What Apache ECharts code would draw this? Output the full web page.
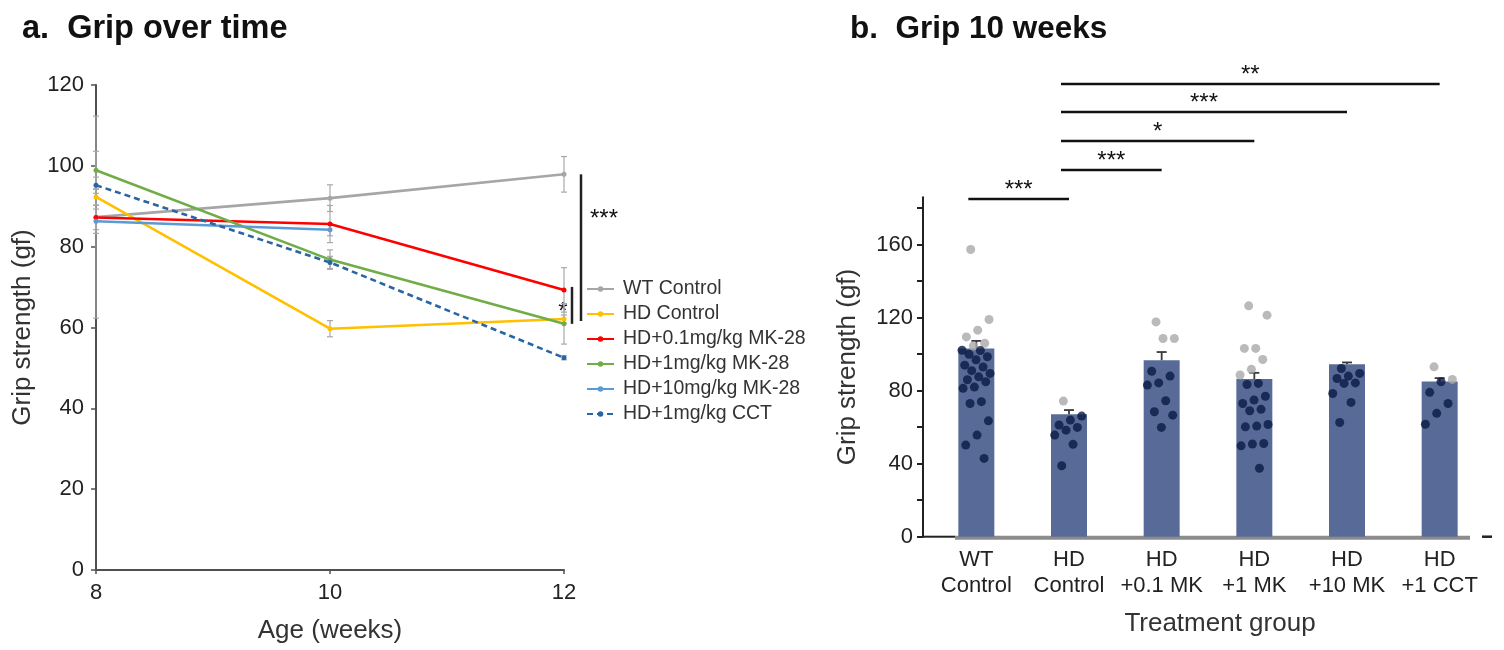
<!DOCTYPE html>
<html><head><meta charset="utf-8">
<script src="https://cdn.jsdelivr.net/npm/echarts@6/dist/echarts.min.js"></script>
<style>html,body{margin:0;padding:0;background:#fff}#c{width:1504px;height:650px}</style>
</head><body><div id="c"></div>
<script>
// ---------- Panel a: grip over time ----------
const weeks = [8, 10, 12];
const lineNames = ['WT Control', 'HD Control', 'HD+0.1mg/kg MK-28', 'HD+1mg/kg MK-28', 'HD+10mg/kg MK-28', 'HD+1mg/kg CCT'];
const wtControl = [87.3, 92.0, 97.9];
const hdControl = [92.3, 59.7, 62.1];
const hd01mk = [87.2, 85.6, 69.3];
const hd1mk = [98.9, 76.8, 60.9];
const hd10mk = [86.3, 84.2, null];
const hd1cct = [95.2, 76.1, 52.5];
const wtErr = [25, 3.3, 4.4];
const hdErr = [2, 2, 1];
const hd01Err = [3, 4.6, 5.5];
const hd1Err = [4.7, 2.4, 5];
const hd10Err = [3, 1.5, null];
const hdCctErr = [2, 1.5, 0.5];
const yTicksA = [0, 20, 40, 60, 80, 100, 120];
const xTicksA = [8, 10, 12];

// ---------- Panel b: grip at 10 weeks ----------
const groups = ['WT\nControl', 'HD\nControl', 'HD\n+0.1 MK', 'HD\n+1 MK', 'HD\n+10 MK', 'HD\n+1 CCT'];
const barMeans = [103.2, 67.1, 96.7, 86.4, 94.5, 85.1];
const barErr = [4.1, 2.3, 4.5, 3.4, 1.0, 1.8];
const wtPts = [157.4, 119, 113.2, 109.5, 106, 104.5, 102.2, 102, 100, 98.6, 97, 94, 93, 91, 89.5, 87.6, 86, 84.9, 82, 81.3, 74, 73, 63.5, 55.7, 50.2, 42.9];
const hdPts = [74.3, 66.1, 63.9, 61.2, 59.9, 58.4, 55.7, 50.6, 38.9];
const mk01Pts = [117.7, 108.6, 108.6, 90.7, 88, 84.3, 83.1, 74.5, 68.5, 66.6, 59.9];
const mk1Pts = [126.5, 121.4, 103.2, 103.2, 97.1, 91.7, 88.6, 84, 83.4, 77, 74.9, 73, 69.8, 69, 61.5, 60.6, 60.2, 51.1, 50.8, 49.8, 37.5];
const mk10Pts = [92.2, 89.5, 88, 86.7, 84.3, 84, 78.5, 73.6, 62.6];
const cctPts = [93.1, 86.2, 84.9, 79.1, 73, 67.6, 61.6];
const yTickValsB = [0, 20, 40, 60, 80, 100, 120, 140, 160, 180];
const yLabelValsB = [0, 40, 80, 120, 160];
const sigPairs = [[0, 1, '***'], [1, 2, '***'], [1, 3, '*'], [1, 4, '***'], [1, 5, '**']];
const sigLeft = [[12, 'WT Control', 'HD Control', '***'], [12, 'HD+0.1mg/kg MK-28', 'HD+1mg/kg MK-28', '*']];

const FONT = 'Liberation Sans, Arial, sans-serif';
const lineVals = [wtControl, hdControl, hd01mk, hd1mk, hd10mk, hd1cct];
const lineErrs = [wtErr, hdErr, hd01Err, hd1Err, hd10Err, hdCctErr];
const lineColors = ['#a6a6a6', '#ffc000', '#ff0000', '#70ad47', '#5b9bd5', '#2a65a3'];
const groupPts = [wtPts, hdPts, mk01Pts, mk1Pts, mk10Pts, cctPts];

const series = [];
// error bars panel a
lineVals.forEach((vals, k) => {
  const data = [];
  vals.forEach((v, i) => { if (v != null && lineErrs[k][i] != null) data.push([weeks[i], v, lineErrs[k][i]]); });
  series.push({
    type: 'custom', xAxisIndex: 0, yAxisIndex: 0, z: 1, silent: true,
    data: data,
    renderItem: function (params, api) {
      const x = api.value(0), y = api.value(1), e = api.value(2);
      const top = api.coord([x, y + e]), bot = api.coord([x, y - e]);
      const style = { stroke: '#a8a8a8', lineWidth: 1.2 };
      return { type: 'group', children: [
        { type: 'line', shape: { x1: top[0], y1: top[1], x2: bot[0], y2: bot[1] }, style },
        { type: 'line', shape: { x1: top[0] - 3, y1: top[1], x2: top[0] + 3, y2: top[1] }, style },
        { type: 'line', shape: { x1: bot[0] - 3, y1: bot[1], x2: bot[0] + 3, y2: bot[1] }, style }
      ]};
    }
  });
});
// lines panel a
lineVals.forEach((vals, k) => {
  series.push({
    name: lineNames[k], type: 'line', xAxisIndex: 0, yAxisIndex: 0, z: 3,
    data: weeks.map((w, i) => vals[i] == null ? null : [w, vals[i]]).filter(d => d),
    symbol: 'circle', symbolSize: 5, color: lineColors[k],
    lineStyle: { width: 2.6, color: lineColors[k], type: k === 5 ? [6, 4] : 'solid' },
    itemStyle: { color: lineColors[k] }
  });
});
// bars panel b
series.push({
  type: 'bar', xAxisIndex: 1, yAxisIndex: 1, data: barMeans, barWidth: 36, z: 2,
  itemStyle: { color: '#586b98' }, silent: true
});
// bar error bars
series.push({
  type: 'custom', xAxisIndex: 2, yAxisIndex: 1, z: 3, silent: true,
  data: barMeans.map((m, i) => [i, m, barErr[i]]),
  renderItem: function (params, api) {
    const x = api.value(0), y = api.value(1), e = api.value(2);
    const a = api.coord([x, y]), b = api.coord([x, y + e]);
    const style = { stroke: '#3a3a3a', lineWidth: 1.8 };
    return { type: 'group', children: [
      { type: 'line', shape: { x1: a[0], y1: a[1], x2: b[0], y2: b[1] }, style },
      { type: 'line', shape: { x1: b[0] - 5, y1: b[1], x2: b[0] + 5, y2: b[1] }, style }
    ]};
  }
});
// individual points
const ptsData = [];
groupPts.forEach((pts, g) => {
  pts.forEach((v, j) => {
    const off = (((j * 0.618034 + 0.31) % 1) - 0.5) * 0.32;
    ptsData.push({ value: [g + off, v], itemStyle: { color: v > barMeans[g] + 0.5 ? '#a9a9a9' : '#0a1a45' } });
  });
});
series.push({
  type: 'scatter', xAxisIndex: 2, yAxisIndex: 1, z: 4, symbolSize: 9, data: ptsData, silent: true
});

const axisLineA = { lineStyle: { color: '#505050', width: 2 } };
const option = {
  animation: false,
  backgroundColor: '#fff',
  title: [
    { text: 'a.  Grip over time', left: 22, top: 13, padding: 0, textStyle: { fontFamily: FONT, fontSize: 32.5, fontWeight: 'bold', color: '#111' } },
    { text: 'b.  Grip 10 weeks', left: 850, top: 13, padding: 0, textStyle: { fontFamily: FONT, fontSize: 31.5, fontWeight: 'bold', color: '#111' } }
  ],
  legend: {
    data: lineNames, orient: 'vertical', left: 581, top: 274, itemWidth: 27, itemHeight: 7, itemGap: 5,
    textStyle: { fontFamily: FONT, fontSize: 19.5, color: '#333', padding: [0, 0, 0, 4] }
  },
  grid: [
    { left: 96, top: 85, width: 468, height: 485 },
    { left: 930, top: 197.3, width: 556, height: 339.4 }
  ],
  xAxis: [
    { type: 'value', gridIndex: 0, min: 8, max: 12, interval: 2, name: 'Age (weeks)', nameLocation: 'middle', nameGap: 48,
      nameTextStyle: { fontFamily: FONT, fontSize: 26, color: '#333' },
      axisLine: axisLineA, axisTick: { show: true, length: 4, lineStyle: { color: '#505050', width: 1.5 } },
      axisLabel: { fontFamily: FONT, fontSize: 22, color: '#222', margin: 12 }, splitLine: { show: false } },
    { type: 'category', gridIndex: 1, data: groups,
      name: 'Treatment group', nameLocation: 'middle', nameGap: 74,
      nameTextStyle: { fontFamily: FONT, fontSize: 26, color: '#333', padding: [0, 0, 0, 24] },
      axisLine: { show: false }, axisTick: { show: false },
      axisLabel: { interval: 0, fontFamily: FONT, fontSize: 22, color: '#222', margin: 10, lineHeight: 26 } },
    { type: 'value', gridIndex: 1, min: -0.5, max: 5.5, show: false }
  ],
  yAxis: [
    { type: 'value', gridIndex: 0, min: 0, max: 120, interval: 20, name: 'Grip strength (gf)', nameLocation: 'middle', nameGap: 60,
      nameTextStyle: { fontFamily: FONT, fontSize: 26, color: '#333' },
      axisLine: { show: true, onZero: false, lineStyle: { color: '#505050', width: 2 } }, axisTick: { show: true, length: 5, lineStyle: { color: '#505050', width: 1.5 } },
      axisLabel: { fontFamily: FONT, fontSize: 22, color: '#222', margin: 12 }, splitLine: { show: false } },
    { type: 'value', gridIndex: 1, min: 0, max: 186, interval: 20, offset: 7,
      name: 'Grip strength (gf)', nameLocation: 'middle', nameGap: 62,
      nameTextStyle: { fontFamily: FONT, fontSize: 26, color: '#333' },
      axisLine: { show: true, onZero: false, lineStyle: { color: '#222', width: 2 } },
      axisTick: { show: true, length: 6, customValues: yTickValsB, lineStyle: { color: '#222', width: 2 } },
      axisLabel: { fontFamily: FONT, fontSize: 22, color: '#222', margin: 10, customValues: yLabelValsB }, splitLine: { show: false } }
  ],
  series: series
};

const chart = echarts.init(document.getElementById('c'), null, { renderer: 'canvas' });
chart.setOption(option);

function pxA(pt) { return chart.convertToPixel({ xAxisIndex: 0, yAxisIndex: 0 }, pt); }
function pxB(pt) { return chart.convertToPixel({ xAxisIndex: 2, yAxisIndex: 1 }, pt); }
const g = [];
const starStyle = { fontFamily: FONT, fontSize: 24, fill: '#111', align: 'center', verticalAlign: 'middle' };
// panel a significance
const idx = n => lineNames.indexOf(n);
{
  const s = sigLeft[0];
  const p1 = pxA([s[0], lineVals[idx(s[1])][2]]), p2 = pxA([s[0], lineVals[idx(s[2])][2]]);
  g.push({ type: 'line', shape: { x1: p1[0] + 17, y1: p1[1], x2: p1[0] + 17, y2: p2[1] + 2 }, style: { stroke: '#222', lineWidth: 2.5 } });
  g.push({ type: 'text', x: p1[0] + 40, y: p1[1] + 45, style: Object.assign({ text: s[3] }, starStyle) });
  const t = sigLeft[1];
  const q1 = pxA([t[0], lineVals[idx(t[1])][2]]), q2 = pxA([t[0], lineVals[idx(t[2])][2]]);
  g.push({ type: 'line', shape: { x1: q1[0] + 8, y1: q1[1] - 3, x2: q1[0] + 8, y2: q2[1] }, style: { stroke: '#222', lineWidth: 2.5 } });
  g.push({ type: 'text', x: q1[0] - 1, y: (q1[1] + q2[1]) / 2 + 5, style: Object.assign({ text: t[3] }, starStyle) });
}
// panel b significance
const levels = [199, 170, 141, 112, 84];
sigPairs.forEach((s, k) => {
  const a = pxB([s[0], 0]), b = pxB([s[1], 0]);
  const x1 = a[0] - 8, x2 = b[0];
  g.push({ type: 'line', shape: { x1, y1: levels[k], x2, y2: levels[k] }, style: { stroke: '#111', lineWidth: 2.6 } });
  g.push({ type: 'text', x: (x1 + x2) / 2, y: levels[k] - 9, style: Object.assign({ text: s[2] }, starStyle) });
});
// baseline of panel b
const o = pxB([-0.5, 0]), e = pxB([5.5, 0]);
g.push({ type: 'line', shape: { x1: o[0] + 25, y1: o[1] + 1, x2: e[0] - 16, y2: e[1] + 1 }, style: { stroke: '#8c8c8c', lineWidth: 4 } });
g.push({ type: 'line', shape: { x1: o[0] - 7, y1: o[1], x2: o[0] + 25, y2: o[1] }, style: { stroke: '#222', lineWidth: 2 } });
g.push({ type: 'line', shape: { x1: e[0] - 4, y1: e[1], x2: e[0] + 6, y2: e[1] }, style: { stroke: '#222', lineWidth: 2.5 } });
chart.setOption({ graphic: g });
</script>
</body></html>
